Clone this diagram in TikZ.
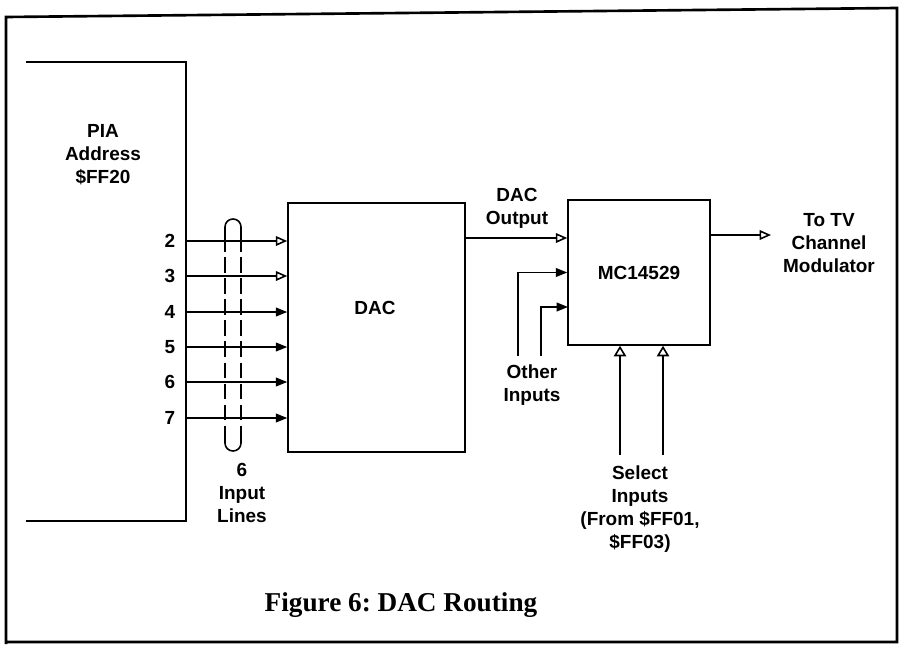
\documentclass[tikz,border=0pt]{standalone}
\usepackage{fontspec}
\setmainfont{Liberation Serif}
\newfontfamily\labelfont{Liberation Sans}
\usetikzlibrary{arrows.meta}
\frenchspacing

\begin{document}
\begin{tikzpicture}[
    x=0.02cm, y=-0.02cm,
    line width=0.9pt,
    lbl/.style={font=\labelfont\bfseries\fontsize{10.8}{13}\selectfont, align=center, inner sep=1pt},
    blk/.style={draw, lbl, inner sep=0pt},
    fwd/.style={-{Triangle[length=6.5pt, width=5pt]}},
    opn/.style={-{Triangle[open, length=6.5pt, width=5.5pt]}},
    sel/.style={-{Triangle[open, length=6pt, width=7pt]}},
  ]
    \useasboundingbox (0,0) rectangle (901,646);
    % ---------- frame ----------
    \draw[line width=1.5pt] (6,644) -- (6,17) -- (897,8) -- (897,642) -- (6,642);

    % ---------- PIA ----------
    \node[minimum width=3.16cm, minimum height=9.14cm, inner sep=0pt] (pia) at (106,291.5) {};
    \draw (pia.north west) -- (pia.north east) -- (pia.south east) -- (pia.south west);
    \node[lbl] (pialbl) at (103,155) {PIA\\Address\\\$FF20};

    % ---------- DAC ----------
    \node[blk, minimum width=3.54cm, minimum height=4.98cm] (dac) at (376.5,327.5) {};
    \node[lbl] (daclbl) at (375,308) {DAC};

    % pins 2..7 into the DAC
    \foreach \p/\y in {2/241,3/276,4/312,5/347,6/382,7/418}
      \node[lbl] (p\p) at (170,\y) {\p};
    \foreach \p in {2,3} \draw[opn] (p\p -| pia.east) -- (p\p -| dac.west);
    \foreach \p in {4,5,6,7} \draw[fwd] (p\p -| pia.east) -- (p\p -| dac.west);

    % bundle loop round the six lines
    \draw[rounded corners=4.5pt] (225,236) -- (225,219) -- (241,219) -- (241,236);
    \draw[rounded corners=4.5pt] (225,434) -- (225,451) -- (241,451) -- (241,434);
    \draw[dash pattern=on 9pt off 3pt] (225,236) -- (225,434);
    \draw[dash pattern=on 9pt off 3pt] (241,236) -- (241,434);
    \node[lbl] (bundle) at (242,493) {6\\Input\\Lines};

    % ---------- MC14529 ----------
    \node[blk, minimum width=2.84cm, minimum height=2.9cm] (mc) at (639,272.5) {MC14529};
    \node[lbl] (daco) at (517,208) {DAC\\Output};
    \draw[opn] (dac.east |- 0,238) -- (mc.west |- 0,238);

    % other inputs
    \node[lbl] (oth) at (532,385) {Other\\Inputs};
    \coordinate (o1) at (518,356);
    \coordinate (o2) at (541,356);
    \coordinate (in2) at (568,307);
    \draw[fwd] (o1) |- (mc.west);
    \draw[fwd] (o2) |- (in2);

    % select inputs
    \node[lbl] (seltxt) at (640,509) {Select\\Inputs\\(From \$FF01,\\\$FF03)};
    \coordinate (s1) at (620,455);
    \coordinate (s2) at (663,455);
    \foreach \s in {s1,s2} \draw[sel] (\s) -- (\s |- mc.south);

    % output
    \node[lbl] (tv) at (829,243) {To TV\\Channel\\Modulator};
    \coordinate (out) at (771,235);
    \draw[opn] (mc.east |- out) -- (out);

    % ---------- caption ----------
    \node[font=\bfseries\fontsize{15.5}{18}\selectfont] (cap) at (401,605) {Figure 6: DAC Routing};
  \end{tikzpicture}
\end{document}
